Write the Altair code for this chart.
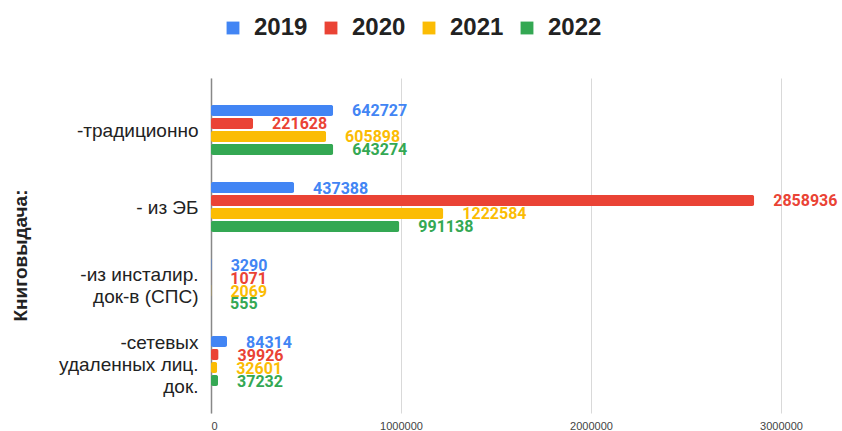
import altair as alt
import pandas as pd

categories = ["-традиционно", "- из ЭБ", "-из инсталир.\nдок-в (СПС)", "-сетевых\nудаленных лиц.\nдок."]
years = ["2019", "2020", "2021", "2022"]
v2019 = [642727, 437388, 3290, 84314]
v2020 = [221628, 2858936, 1071, 39926]
v2021 = [605898, 1222584, 2069, 32601]
v2022 = [643274, 991138, 555, 37232]
colors = ["#4285F4", "#EA4335", "#FBBC04", "#34A853"]

rows = []
for y, vals in zip(years, [v2019, v2020, v2021, v2022]):
    for c, v in zip(categories, vals):
        rows.append({"cat": c, "year": y, "value": v})
df = pd.DataFrame(rows)

FONT = "Liberation Sans"
LH = 22

y_enc = alt.Y(
    "cat:N",
    sort=categories,
    scale=alt.Scale(paddingInner=0.325, paddingOuter=0.3375),
    axis=alt.Axis(
        title="Книговыдача:",
        titleFont=FONT,
        titleFontSize=19,
        titleFontWeight="bold",
        titleColor="#222",
        titleAngle=270,
        titleX=-191,
        titleY=177,
        titleAlign="center",
        titleBaseline="middle",
        labelFont=FONT,
        labelFontSize=19,
        labelColor="#222",
        labelPadding=13,
        labelLineHeight=LH,
        labelExpr="split(datum.value, '\\n')",
        labelOffset={
            "condition": [
                {"test": "length(split(datum.value, '\\n')) == 3", "value": -18},
                {"test": "length(split(datum.value, '\\n')) == 2", "value": -9},
            ],
            "value": 1,
        },
        ticks=False,
        domainColor="#888",
        domainWidth=1.5,
        grid=False,
    ),
)
yoff = alt.YOffset("year:N", sort=years,
                   scale=alt.Scale(paddingInner=0.15, paddingOuter=0.075))
x_enc = alt.X(
    "value:Q",
    scale=alt.Scale(domain=[0, 3300000], nice=False),
    axis=alt.Axis(
        title=None,
        values=[0, 1000000, 2000000, 3000000],
        format="d",
        labelFont=FONT,
        labelFontSize=11,
        labelColor="#444",
        labelPadding=7,
        ticks=False,
        domain=False,
        gridColor="#d9d9d9",
    ),
)
color_enc = alt.Color(
    "year:N",
    sort=years,
    scale=alt.Scale(domain=years, range=colors),
    legend=alt.Legend(
        title=None,
        orient="none",
        legendX=10,
        legendY=-62,
        direction="horizontal",
        columns=4,
        columnPadding=11,
        symbolType="square",
        symbolSize=165,
        symbolStrokeWidth=0,
        labelFont=FONT,
        labelFontSize=24,
        labelFontWeight="bold",
        labelColor="#222",
        labelOffset=9,
    ),
)

bars = alt.Chart(df).mark_bar(cornerRadius=2).encode(
    x=x_enc, y=y_enc, yOffset=yoff, color=color_enc
)
labels = alt.Chart(df).mark_text(
    align="left", baseline="middle", dx=19, dy=1, fontSize=16, fontWeight="bold", font="Roboto"
).encode(
    x="value:Q",
    y=alt.Y("cat:N", sort=categories),
    yOffset=alt.YOffset("year:N", sort=years),
    text=alt.Text("value:Q", format="d"),
    color=alt.Color("year:N", sort=years, legend=None),
)

chart = alt.layer(bars, labels).properties(
    width=627,
    height=335,
    autosize=alt.AutoSizeParams(type="none"),
    padding={"left": 211, "top": 78, "right": 4, "bottom": 18},
    background="white",
).configure_view(stroke=None)

chart.save("out.html", embed_options={"renderer": "svg", "actions": False})
